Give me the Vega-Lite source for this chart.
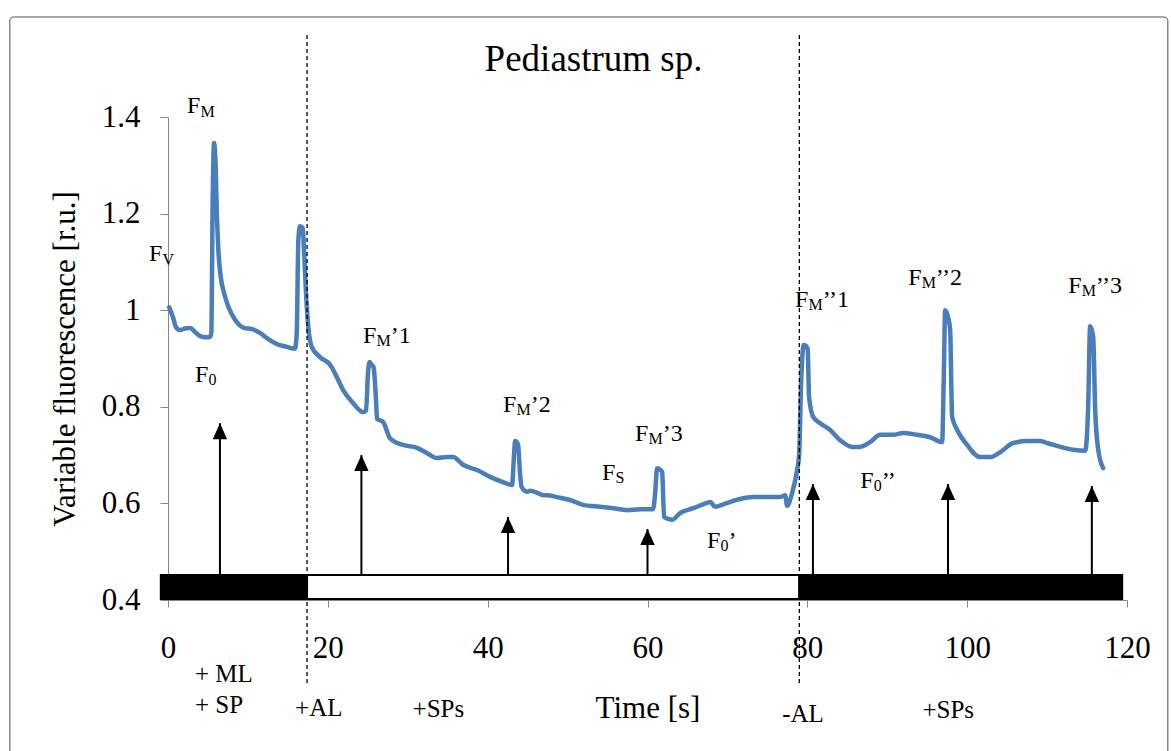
{
  "$schema": "https://vega.github.io/schema/vega-lite/v6.json",
  "width": 959,
  "height": 483,
  "autosize": {"type": "none"},
  "padding": {"left": 168, "top": 117, "right": 44, "bottom": 151},
  "background": "white",
  "config": {
    "view": {"stroke": null},
    "font": "Liberation Serif",
    "axis": {
      "labelFont": "Liberation Serif",
      "titleFont": "Liberation Serif",
      "labelColor": "#000000",
      "titleColor": "#000000",
      "domainColor": "#868686",
      "tickColor": "#868686",
      "grid": false,
      "titleFontWeight": "normal",
      "labelFontSize": 31,
      "titleFontSize": 31,
      "labelOverlap": false
    }
  },
  "datasets": {
    "frame": [{"t": -19.8, "t2": 125.1, "v": 1.607, "v2": -0.3}],
    "curve": [
      {"t": 0.16, "v": 1.006}, {"t": 0.63, "v": 0.985}, {"t": 1.0, "v": 0.965}, {"t": 1.5, "v": 0.959},
      {"t": 2.13, "v": 0.962}, {"t": 2.75, "v": 0.963}, {"t": 3.5, "v": 0.953}, {"t": 4.22, "v": 0.945},
      {"t": 4.76, "v": 0.944}, {"t": 5.26, "v": 0.945}, {"t": 5.42, "v": 0.953}, {"t": 5.59, "v": 1.228},
      {"t": 5.76, "v": 1.346}, {"t": 5.97, "v": 1.296}, {"t": 6.1, "v": 1.207}, {"t": 6.3, "v": 1.125},
      {"t": 6.6, "v": 1.069}, {"t": 7.01, "v": 1.036}, {"t": 7.55, "v": 1.007}, {"t": 8.39, "v": 0.98},
      {"t": 9.42, "v": 0.964}, {"t": 10.68, "v": 0.96}, {"t": 11.51, "v": 0.953}, {"t": 12.55, "v": 0.94},
      {"t": 13.6, "v": 0.93}, {"t": 14.86, "v": 0.924}, {"t": 15.89, "v": 0.92}, {"t": 16.11, "v": 0.953},
      {"t": 16.31, "v": 1.145}, {"t": 16.52, "v": 1.174}, {"t": 16.86, "v": 1.17}, {"t": 17.02, "v": 1.125},
      {"t": 17.23, "v": 1.048}, {"t": 17.56, "v": 0.965}, {"t": 17.98, "v": 0.924}, {"t": 19.02, "v": 0.903},
      {"t": 20.28, "v": 0.887}, {"t": 21.11, "v": 0.862}, {"t": 21.9, "v": 0.835}, {"t": 23.15, "v": 0.808},
      {"t": 24.41, "v": 0.789}, {"t": 24.78, "v": 0.792}, {"t": 25.03, "v": 0.87}, {"t": 25.22, "v": 0.893},
      {"t": 25.53, "v": 0.886}, {"t": 25.72, "v": 0.882}, {"t": 26.03, "v": 0.814}, {"t": 26.16, "v": 0.775},
      {"t": 26.91, "v": 0.769}, {"t": 27.78, "v": 0.735}, {"t": 29.41, "v": 0.721}, {"t": 31.16, "v": 0.715},
      {"t": 32.42, "v": 0.704}, {"t": 33.67, "v": 0.694}, {"t": 34.92, "v": 0.696}, {"t": 35.67, "v": 0.696},
      {"t": 36.92, "v": 0.68}, {"t": 38.67, "v": 0.669}, {"t": 40.3, "v": 0.655}, {"t": 41.93, "v": 0.644},
      {"t": 43.05, "v": 0.638}, {"t": 43.3, "v": 0.7}, {"t": 43.43, "v": 0.729}, {"t": 43.8, "v": 0.722},
      {"t": 44.06, "v": 0.66}, {"t": 44.24, "v": 0.634}, {"t": 44.93, "v": 0.624}, {"t": 45.3, "v": 0.626},
      {"t": 46.18, "v": 0.622}, {"t": 46.93, "v": 0.617}, {"t": 47.43, "v": 0.617}, {"t": 48.69, "v": 0.613},
      {"t": 50.31, "v": 0.607}, {"t": 51.94, "v": 0.597}, {"t": 54.07, "v": 0.593}, {"t": 55.69, "v": 0.59},
      {"t": 57.45, "v": 0.586}, {"t": 59.07, "v": 0.588}, {"t": 60.7, "v": 0.588}, {"t": 60.95, "v": 0.62},
      {"t": 61.2, "v": 0.673}, {"t": 61.58, "v": 0.67}, {"t": 61.83, "v": 0.665}, {"t": 62.08, "v": 0.572},
      {"t": 62.58, "v": 0.568}, {"t": 63.08, "v": 0.566}, {"t": 64.08, "v": 0.58}, {"t": 65.71, "v": 0.59},
      {"t": 67.46, "v": 0.601}, {"t": 67.83, "v": 0.603}, {"t": 68.46, "v": 0.593}, {"t": 69.96, "v": 0.601},
      {"t": 71.59, "v": 0.609}, {"t": 73.22, "v": 0.613}, {"t": 74.97, "v": 0.613}, {"t": 76.6, "v": 0.613},
      {"t": 77.22, "v": 0.617}, {"t": 77.47, "v": 0.595}, {"t": 78.1, "v": 0.622}, {"t": 78.72, "v": 0.669},
      {"t": 78.97, "v": 0.7}, {"t": 79.22, "v": 0.849}, {"t": 79.54, "v": 0.928}, {"t": 79.85, "v": 0.926},
      {"t": 80.04, "v": 0.92}, {"t": 80.22, "v": 0.82}, {"t": 80.73, "v": 0.779}, {"t": 81.6, "v": 0.766},
      {"t": 82.85, "v": 0.752}, {"t": 84.1, "v": 0.731}, {"t": 85.61, "v": 0.717}, {"t": 86.61, "v": 0.717},
      {"t": 87.86, "v": 0.727}, {"t": 89.11, "v": 0.742}, {"t": 90.74, "v": 0.742}, {"t": 91.99, "v": 0.746},
      {"t": 93.74, "v": 0.742}, {"t": 95.37, "v": 0.737}, {"t": 96.87, "v": 0.727}, {"t": 97.06, "v": 0.85},
      {"t": 97.25, "v": 1.0}, {"t": 97.62, "v": 0.985}, {"t": 97.87, "v": 0.959}, {"t": 98.12, "v": 0.779},
      {"t": 98.75, "v": 0.752}, {"t": 100.0, "v": 0.721}, {"t": 101.63, "v": 0.696}, {"t": 102.88, "v": 0.696},
      {"t": 104.13, "v": 0.706}, {"t": 105.76, "v": 0.725}, {"t": 107.51, "v": 0.729}, {"t": 109.14, "v": 0.729},
      {"t": 110.01, "v": 0.725}, {"t": 111.64, "v": 0.717}, {"t": 113.27, "v": 0.711}, {"t": 114.77, "v": 0.709},
      {"t": 115.14, "v": 0.8}, {"t": 115.39, "v": 0.967}, {"t": 115.77, "v": 0.945}, {"t": 116.02, "v": 0.793},
      {"t": 116.4, "v": 0.711}, {"t": 117.02, "v": 0.673}
    ],
    "phases": [
      {"t": -0.9, "t2": 17.4, "v": 0.452, "v2": 0.402, "phase": "dark"},
      {"t": 17.4, "t2": 79.0, "v": 0.452, "v2": 0.402, "phase": "light"},
      {"t": 79.0, "t2": 119.4, "v": 0.452, "v2": 0.402, "phase": "dark"}
    ],
    "switches": [
      {"t": 17.4, "v": 1.57, "v2": 0.228},
      {"t": 79.0, "v": 1.57, "v2": 0.228}
    ],
    "arrows": [
      {"t": 6.5, "v": 0.766, "v2": 0.452}, {"t": 24.2, "v": 0.7, "v2": 0.452}, {"t": 42.55, "v": 0.572, "v2": 0.452},
      {"t": 60.0, "v": 0.547, "v2": 0.452}, {"t": 80.7, "v": 0.64, "v2": 0.452}, {"t": 97.6, "v": 0.64, "v2": 0.452},
      {"t": 115.6, "v": 0.636, "v2": 0.452}
    ],
    "letters": [
      {"t": 2.38, "v": 1.408, "text": "F"}, {"t": -2.38, "v": 1.102, "text": "F"}, {"t": 3.38, "v": 0.851, "text": "F"},
      {"t": 24.41, "v": 0.932, "text": "F"}, {"t": 41.93, "v": 0.789, "text": "F"}, {"t": 54.32, "v": 0.648, "text": "F"},
      {"t": 58.45, "v": 0.729, "text": "F"}, {"t": 67.46, "v": 0.508, "text": "F"}, {"t": 86.61, "v": 0.632, "text": "F"},
      {"t": 78.47, "v": 1.007, "text": "F"}, {"t": 92.62, "v": 1.052, "text": "F"}, {"t": 112.64, "v": 1.036, "text": "F"},
      {"t": 27.87, "v": 0.932, "text": "’1"}, {"t": 45.39, "v": 0.789, "text": "’2"}, {"t": 61.91, "v": 0.729, "text": "’3"},
      {"t": 70.15, "v": 0.508, "text": "’"}, {"t": 89.3, "v": 0.632, "text": "’’"}, {"t": 81.94, "v": 1.007, "text": "’’1"},
      {"t": 96.08, "v": 1.052, "text": "’’2"}, {"t": 116.1, "v": 1.036, "text": "’’3"}
    ],
    "subscripts": [
      {"t": 4.07, "v": 1.4, "text": "M"}, {"t": -0.69, "v": 1.094, "text": "V"}, {"t": 5.07, "v": 0.845, "text": "0"},
      {"t": 26.1, "v": 0.926, "text": "M"}, {"t": 43.62, "v": 0.783, "text": "M"}, {"t": 56.0, "v": 0.642, "text": "S"},
      {"t": 60.14, "v": 0.723, "text": "M"}, {"t": 69.15, "v": 0.501, "text": "0"}, {"t": 88.3, "v": 0.626, "text": "0"},
      {"t": 80.16, "v": 1.0, "text": "M"}, {"t": 94.31, "v": 1.046, "text": "M"}, {"t": 114.33, "v": 1.03, "text": "M"}
    ],
    "notes": [
      {"t": 3.38, "v": 0.23, "text": "+ ML"}, {"t": 3.38, "v": 0.166, "text": "+ SP"},
      {"t": 15.9, "v": 0.16, "text": "+AL"}, {"t": 30.6, "v": 0.158, "text": "+SPs"},
      {"t": 76.85, "v": 0.147, "text": "-AL"}, {"t": 94.4, "v": 0.156, "text": "+SPs"}
    ],
    "heading": [{"t": 53.25, "v": 1.496, "text": "Pediastrum sp."}]
  },
  "encoding": {
    "x": {
      "field": "t", "type": "quantitative",
      "scale": {"domain": [0, 120], "nice": false, "zero": false},
      "title": "Time [s]",
      "axis": {"values": [0, 20, 40, 60, 80, 100, 120], "tickSize": 7, "labelPadding": 26, "titlePadding": 30, "labelFlush": false}
    },
    "y": {
      "field": "v", "type": "quantitative",
      "scale": {"domain": [0.4, 1.4], "nice": false, "zero": false},
      "title": "Variable fluorescence [r.u.]",
      "axis": {"values": [0.4, 0.6, 0.8, 1, 1.2, 1.4], "format": "~g", "tickSize": 8, "labelPadding": 20, "titlePadding": 20, "labelFlush": false}
    }
  },
  "layer": [
    {
      "data": {"name": "frame"},
      "mark": {"type": "rect", "fillOpacity": 0, "stroke": "#8c8c8c", "strokeWidth": 1.5, "cornerRadius": 4},
      "encoding": {"x2": {"field": "t2"}, "y2": {"field": "v2"}}
    },
    {
      "data": {"name": "curve"},
      "mark": {"type": "line", "color": "#4a7ebb", "strokeWidth": 4.5, "strokeCap": "round", "strokeJoin": "round", "interpolate": "monotone"}
    },
    {
      "data": {"name": "phases"},
      "mark": {"type": "rect", "stroke": "#000000", "strokeWidth": 2},
      "encoding": {
        "x2": {"field": "t2"},
        "y2": {"field": "v2"},
        "fill": {"field": "phase", "type": "nominal", "scale": {"domain": ["dark", "light"], "range": ["#000000", "#ffffff"]}, "legend": null}
      }
    },
    {
      "data": {"name": "switches"},
      "mark": {"type": "rule", "color": "#000000", "strokeWidth": 1.3, "strokeDash": [4, 3]},
      "encoding": {"y2": {"field": "v2"}}
    },
    {
      "data": {"name": "arrows"},
      "mark": {"type": "rule", "color": "#000000", "strokeWidth": 2},
      "encoding": {"y2": {"field": "v2"}}
    },
    {
      "data": {"name": "arrows"},
      "mark": {"type": "point", "shape": "M0,0L-0.45,1L0.45,1Z", "size": 1024, "filled": true, "color": "#000000", "opacity": 1, "strokeWidth": 0}
    },
    {
      "data": {"name": "letters"},
      "mark": {"type": "text", "align": "left", "baseline": "alphabetic", "font": "Liberation Serif", "fontSize": 24, "color": "#000000"},
      "encoding": {"text": {"field": "text"}}
    },
    {
      "data": {"name": "subscripts"},
      "mark": {"type": "text", "align": "left", "baseline": "alphabetic", "font": "Liberation Serif", "fontSize": 16, "color": "#000000"},
      "encoding": {"text": {"field": "text"}}
    },
    {
      "data": {"name": "notes"},
      "mark": {"type": "text", "align": "left", "baseline": "alphabetic", "font": "Liberation Serif", "fontSize": 25, "color": "#000000"},
      "encoding": {"text": {"field": "text"}}
    },
    {
      "data": {"name": "heading"},
      "mark": {"type": "text", "align": "center", "baseline": "alphabetic", "font": "Liberation Serif", "fontSize": 37, "color": "#000000"},
      "encoding": {"text": {"field": "text"}}
    }
  ]
}
